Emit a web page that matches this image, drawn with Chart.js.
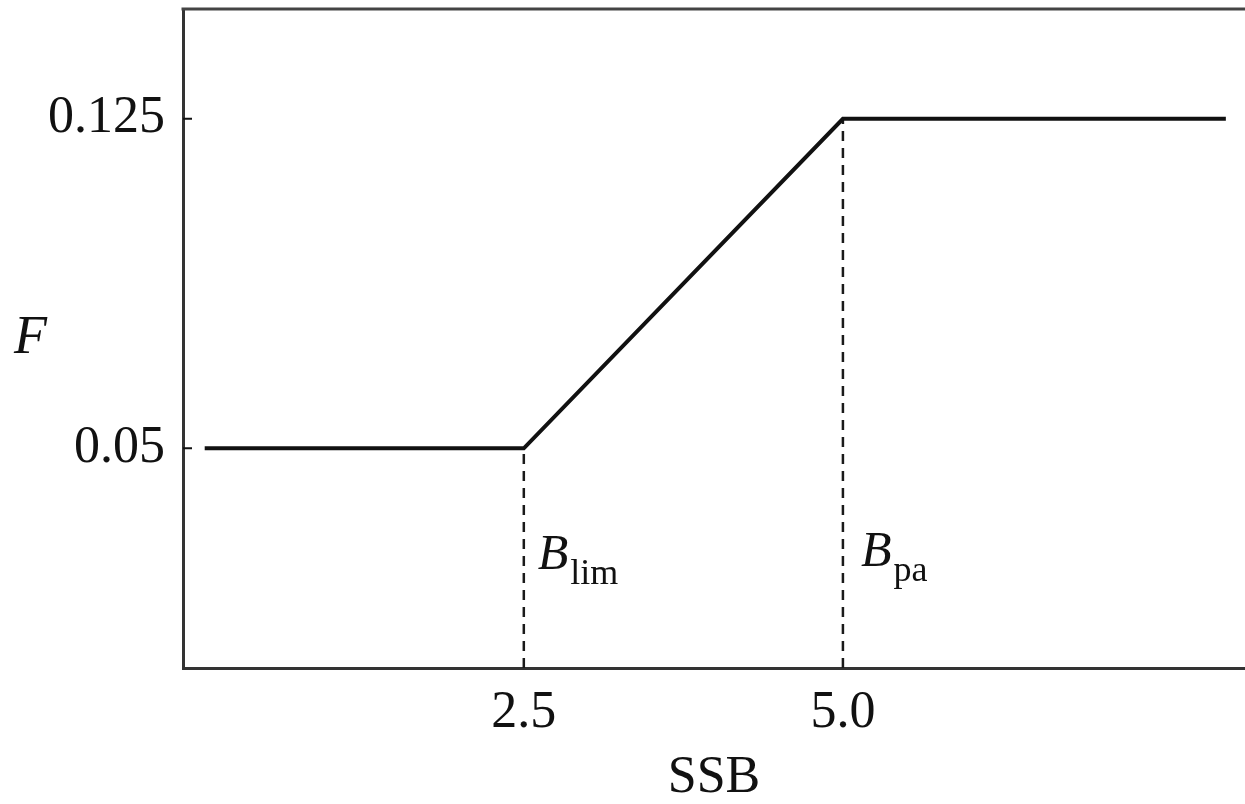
<!DOCTYPE html>
<html>
<head>
<meta charset="utf-8">
<script src="https://cdn.jsdelivr.net/npm/chart.js@4"></script>
<style>
  html, body { margin: 0; padding: 0; background: #fff; }
  #wrap { width: 1245px; height: 804px; }
</style>
</head>
<body>
<div id="wrap"><canvas id="chart"></canvas></div>
<script>
// harvest control rule: F against SSB
const ssb = [0, 2.5, 5.0, 8.0]
const fValues = [0.05, 0.05, 0.125, 0.125]
const xTicks = [2.5, 5.0]
const xTickLabels = ['2.5', '5.0']
const yTicks = [0.05, 0.125]
const yTickLabels = ['0.05', '0.125']
// reference points B_lim and B_pa
const refSsb = [2.5, 5.0]
const refF = [0.05, 0.125]
const refNames = ['lim', 'pa']
const xTitle = 'SSB'
const yTitle = 'F'

const serif = "'Liberation Serif', 'DejaVu Serif', serif"
const ink = '#111'

const ruleLine = ssb.map((x, i) => ({ x: x, y: fValues[i] }))
const refLines = refSsb.map((x, i) => ({
  data: [{ x: x, y: 0 }, { x: x, y: refF[i] }],
  borderColor: '#1a1a1a',
  borderWidth: 2.5,
  borderDash: [10, 7],
  pointRadius: 0,
  showLine: true,
  fill: false
}))

// top frame, inward ticks, the F title and the B labels
const extras = {
  id: 'extras',
  afterDraw(chart) {
    const { ctx, chartArea, scales } = chart
    ctx.save()
    ctx.strokeStyle = '#444'
    ctx.lineWidth = 3
    ctx.beginPath()
    ctx.moveTo(chartArea.left - 1.5, chartArea.top)
    ctx.lineTo(chartArea.right, chartArea.top)
    ctx.stroke()

    ctx.strokeStyle = ink
    ctx.lineWidth = 2
    ctx.beginPath()
    yTicks.forEach(v => {
      const py = scales.y.getPixelForValue(v)
      ctx.moveTo(chartArea.left, py)
      ctx.lineTo(chartArea.left + 9, py)
    })
    ctx.stroke()

    ctx.fillStyle = ink
    ctx.textBaseline = 'middle'
    ctx.textAlign = 'left'
    ctx.font = 'italic 54px ' + serif
    ctx.fillText(yTitle, 14, (chartArea.top + chartArea.bottom) / 2)

    ctx.textBaseline = 'alphabetic'
    refSsb.forEach((x, i) => {
      const px = scales.x.getPixelForValue(x) + 14 + i * 4
      const py = 569 - i * 3
      ctx.font = 'italic 50px ' + serif
      ctx.fillText('B', px, py)
      const w = ctx.measureText('B').width
      ctx.font = '36px ' + serif
      ctx.fillText(refNames[i], px + w + 2, py + 15)
    })
    ctx.restore()
  }
}

new Chart(document.getElementById('chart'), {
  type: 'scatter',
  data: {
    datasets: [{
      data: ruleLine,
      borderColor: ink,
      borderWidth: 4,
      pointRadius: 0,
      showLine: true,
      tension: 0,
      fill: false
    }].concat(refLines)
  },
  options: {
    responsive: true,
    maintainAspectRatio: false,
    animation: false,
    layout: { padding: { top: 9, right: 0, bottom: 0, left: 0 } },
    plugins: { legend: { display: false }, tooltip: { enabled: false } },
    scales: {
      x: {
        type: 'linear',
        min: -0.17,
        max: 8.15,
        afterBuildTicks: scale => { scale.ticks = xTicks.map(v => ({ value: v })) },
        afterFit: scale => {
          scale.height = 136
          scale.paddingLeft = 0
          scale.paddingRight = 0
        },
        grid: { display: false, drawTicks: false },
        border: { display: true, color: '#333', width: 3 },
        ticks: {
          autoSkip: false,
          maxRotation: 0,
          padding: 14,
          color: ink,
          font: { family: serif, size: 52 },
          callback: (v, i) => xTickLabels[i]
        },
        title: {
          display: true,
          text: xTitle,
          color: ink,
          font: { family: serif, size: 52, lineHeight: 1 },
          padding: { top: 0, bottom: 0 }
        }
      },
      y: {
        type: 'linear',
        min: 0,
        max: 0.15,
        afterBuildTicks: scale => { scale.ticks = yTicks.map(v => ({ value: v })) },
        afterFit: scale => {
          scale.width = 183
          scale.paddingTop = 0
          scale.paddingBottom = 0
        },
        grid: { display: false, drawTicks: false },
        border: { display: true, color: '#333', width: 3 },
        ticks: {
          autoSkip: false,
          padding: 18,
          color: ink,
          font: { family: serif, size: 52 },
          callback: (v, i) => yTickLabels[i]
        }
      }
    }
  },
  plugins: [extras]
})
</script>
</body>
</html>
